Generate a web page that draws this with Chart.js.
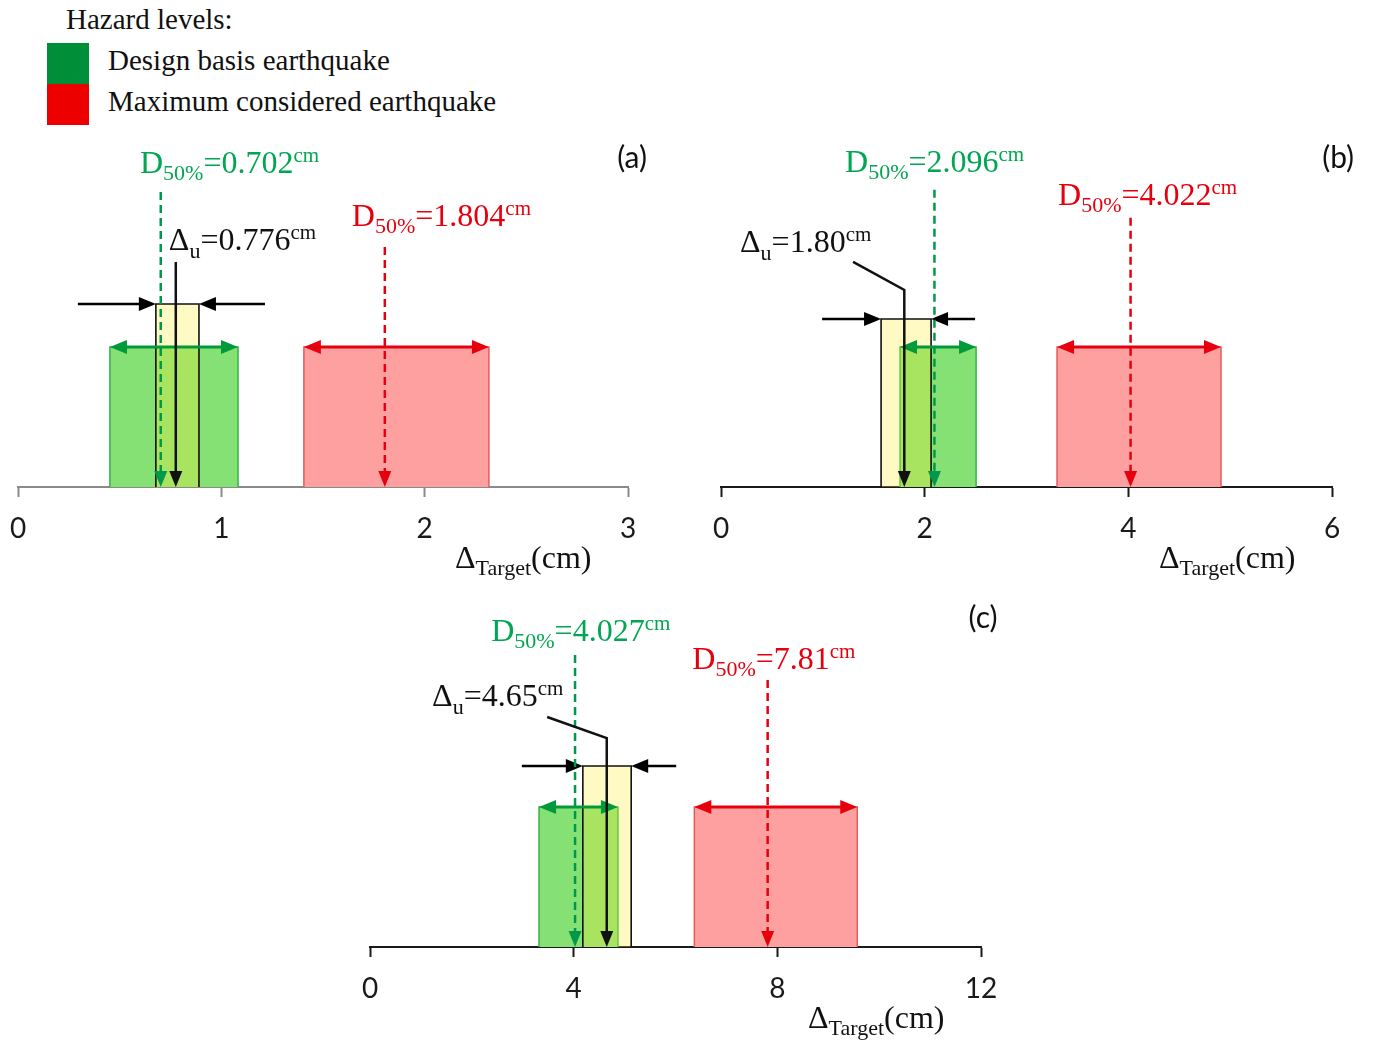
<!DOCTYPE html>
<html>
<head>
<meta charset="utf-8">
<script src="https://cdn.jsdelivr.net/npm/chart.js@4/dist/chart.umd.min.js"></script>
<style>
  body { margin: 0; background: #fff; }
  #page { position: relative; width: 1373px; height: 1042px; overflow: hidden; }
  canvas { position: absolute; }
  .lg { position: absolute; font-family: "Liberation Serif", serif; font-size: 29px; line-height: 29px; color: #111; white-space: nowrap; }
  .sw { position: absolute; left: 47px; width: 42px; height: 41px; }
</style>
</head>
<body>
<div id="page">
  <div class="lg" style="left:66px;top:5px">Hazard levels:</div>
  <div class="sw" style="top:43px;background:#008f39"></div>
  <div class="sw" style="top:84px;background:#ec0000"></div>
  <div class="lg" style="left:108px;top:46px">Design basis earthquake</div>
  <div class="lg" style="left:108px;top:87px">Maximum considered earthquake</div>

  <canvas id="panelA" width="690" height="460" style="left:0;top:130px"></canvas>
  <canvas id="panelB" width="683" height="460" style="left:690px;top:130px"></canvas>
  <canvas id="panelC" width="700" height="452" style="left:340px;top:590px"></canvas>
</div>
<script>
// target displacement ranges (cm) for each panel
const panelNames = ['(a)', '(b)', '(c)'];
const axisMax = [3, 6, 12];
const tickStep = [1, 2, 4];
const dbeBand = [[0.452, 1.082], [1.758, 2.505], [3.32, 4.87]];
const mceBand = [[1.406, 2.316], [3.30, 4.91], [6.37, 9.57]];
const capBand = [[0.678, 0.890], [1.572, 2.063], [4.18, 5.13]];
const dbeMedian = [0.702, 2.096, 4.027];
const mceMedian = [1.804, 4.022, 7.81];
const deltaU = [0.776, 1.80, 4.65];
const deltaUDigits = [3, 2, 2];
const mceDigits = [3, 3, 2];
const bandHeight = [4, 4, 4];
const capHeight = [5.23, 4.8, 5.17];

// where the arrows start and the labels sit (x in cm, y in chart units)
const panelLayout = [
  { canvas: 'panelA', pad: { left: 18, right: 62, top: 7, bottom: 29.4 }, axisColor: '#8a8a8a',
    capArrows: [78, 66], dbeTop: 8.43, mceTop: 6.86, uStart: [0.776, 6.43], uKnee: null,
    dbeLabel: [0.60, 8.97], mceLabel: [1.642, 7.46], uLabel: [0.742, 6.77], tag: [3.02, 9.4] },
  { canvas: 'panelB', pad: { left: 31, right: 41, top: 7, bottom: 29.4 }, axisColor: '#1a1a1a',
    capArrows: [59, 44], dbeTop: 8.49, mceTop: 7.69, uStart: [1.297, 6.43], uKnee: 5.63,
    dbeLabel: [1.218, 9.0], mceLabel: [3.31, 8.06], uLabel: [0.187, 6.71], tag: [6.06, 9.4] },
  { canvas: 'panelC', pad: { left: 30, right: 59, top: 7, bottom: 21.4 }, axisColor: '#1a1a1a',
    capArrows: [61, 45], dbeTop: 8.34, mceTop: 7.63, uStart: [3.48, 6.57], uKnee: 5.97,
    dbeLabel: [2.38, 8.74], mceLabel: [6.33, 7.94], uLabel: [1.22, 6.89], tag: [12.04, 9.4] }
];

const GREEN_TEXT = '#00a651';
const GREEN_LINE = '#00984a';
const GREEN_ARROW = '#009a3a';
const RED = '#e6000e';
const SERIF = '"Liberation Serif", serif';

function rect(range, h) {
  return [{ x: range[0], y: 0 }, { x: range[0], y: h }, { x: range[1], y: h }, { x: range[1], y: 0 }];
}

function head(ctx, tx, ty, dx, dy, len, half, color) {
  const bx = tx - dx * len, by = ty - dy * len;
  ctx.beginPath();
  ctx.moveTo(tx, ty);
  ctx.lineTo(bx - dy * half, by + dx * half);
  ctx.lineTo(bx + dy * half, by - dx * half);
  ctx.closePath();
  ctx.fillStyle = color;
  ctx.fill();
}

// polyline with an arrow head at the last point (and optionally the first)
function arrow(ctx, pts, color, width, dash, both, len, half) {
  const n = pts.length;
  const dir = (a, b) => { const l = Math.hypot(b[0] - a[0], b[1] - a[1]); return [(b[0] - a[0]) / l, (b[1] - a[1]) / l]; };
  const de = dir(pts[n - 2], pts[n - 1]);
  const ds = dir(pts[1], pts[0]);
  ctx.save();
  ctx.strokeStyle = color;
  ctx.lineWidth = width;
  ctx.setLineDash(dash || []);
  ctx.beginPath();
  ctx.moveTo(pts[0][0] - (both ? ds[0] * len * 0.8 : 0), pts[0][1] - (both ? ds[1] * len * 0.8 : 0));
  for (let k = 1; k < n - 1; k++) ctx.lineTo(pts[k][0], pts[k][1]);
  ctx.lineTo(pts[n - 1][0] - de[0] * len * 0.8, pts[n - 1][1] - de[1] * len * 0.8);
  ctx.stroke();
  ctx.setLineDash([]);
  head(ctx, pts[n - 1][0], pts[n - 1][1], de[0], de[1], len, half, color);
  if (both) head(ctx, pts[0][0], pts[0][1], ds[0], ds[1], len, half, color);
  ctx.restore();
}

function richText(ctx, x, y, parts, color) {
  ctx.save();
  ctx.fillStyle = color;
  ctx.textAlign = 'left';
  ctx.textBaseline = 'alphabetic';
  for (const [t, size, dy] of parts) {
    ctx.font = size + 'px ' + SERIF;
    ctx.fillText(t, x, y + dy);
    x += ctx.measureText(t).width;
  }
  ctx.restore();
}

const medianLabel = v => [['D', 32, 0], ['50%', 22, 7], ['=' + v, 32, 0], ['cm', 21, -11]];

const marks = {
  id: 'marks',
  afterDraw(chart) {
    const i = chart.options.plugins.marks.panel;
    const L = panelLayout[i];
    const { ctx, scales: { x, y } } = chart;
    const px = v => x.getPixelForValue(v);
    const py = v => y.getPixelForValue(v);
    const base = py(0);

    // hazard ranges
    arrow(ctx, [[px(dbeBand[i][0]), py(bandHeight[i])], [px(dbeBand[i][1]), py(bandHeight[i])]], GREEN_ARROW, 3, null, true, 17, 7);
    arrow(ctx, [[px(mceBand[i][0]), py(bandHeight[i])], [px(mceBand[i][1]), py(bandHeight[i])]], RED, 3, null, true, 17, 7);

    // capacity band pointers
    const cy = py(capHeight[i]);
    arrow(ctx, [[px(capBand[i][0]) - L.capArrows[0], cy], [px(capBand[i][0]), cy]], '#000', 2.5, null, false, 17, 7);
    arrow(ctx, [[px(capBand[i][1]) + L.capArrows[1], cy], [px(capBand[i][1]), cy]], '#000', 2.5, null, false, 17, 7);

    // medians
    arrow(ctx, [[px(dbeMedian[i]), py(L.dbeTop)], [px(dbeMedian[i]), base]], GREEN_LINE, 2.5, [8, 5], false, 16, 6.5);
    arrow(ctx, [[px(mceMedian[i]), py(L.mceTop)], [px(mceMedian[i]), base]], RED, 2.5, [8, 5], false, 16, 6.5);

    // ultimate displacement
    const up = [[px(L.uStart[0]), py(L.uStart[1])]];
    if (L.uKnee !== null) up.push([px(deltaU[i]), py(L.uKnee)]);
    up.push([px(deltaU[i]), base]);
    arrow(ctx, up, '#111', 2.5, null, false, 16, 6.5);

    // labels
    richText(ctx, px(L.dbeLabel[0]), py(L.dbeLabel[1]), medianLabel(dbeMedian[i].toFixed(3)), GREEN_TEXT);
    richText(ctx, px(L.mceLabel[0]), py(L.mceLabel[1]), medianLabel(mceMedian[i].toFixed(mceDigits[i])), RED);
    richText(ctx, px(L.uLabel[0]), py(L.uLabel[1]),
      [['Δ', 32, 0], ['u', 22, 8], ['=' + deltaU[i].toFixed(deltaUDigits[i]), 32, 0], ['cm', 21, -11]], '#111');

    // axis title
    richText(ctx, x.right - 173, base + 81, [['Δ', 32, 0], ['Target', 22, 7], ['(cm)', 32, 0]], '#111');

    // panel tag
    ctx.save();
    ctx.font = '30px Lato';
    ctx.fillStyle = '#111';
    ctx.textAlign = 'center';
    ctx.textBaseline = 'middle';
    ctx.fillText(panelNames[i], px(L.tag[0]), py(L.tag[1]));
    ctx.restore();
  }
};

function makePanel(i) {
  const L = panelLayout[i];
  const line = (data, fillColor, edge, width) => ({
    data: data, showLine: true, fill: 'origin', backgroundColor: fillColor,
    borderColor: edge, borderWidth: width, pointRadius: 0, tension: 0
  });
  new Chart(document.getElementById(L.canvas), {
    type: 'line',
    data: {
      datasets: [
        Object.assign(line(rect(capBand[i], capHeight[i]), 'rgba(255,238,48,0.29)', '#111', 1.6), { label: 'Δu' }),
        Object.assign(line(rect(dbeBand[i], bandHeight[i]), 'rgb(134,225,116)', '#33b24d', 1.5), { label: 'DBE' }),
        Object.assign(line(rect(mceBand[i], bandHeight[i]), 'rgb(255,160,160)', '#e85a5a', 1.5), { label: 'MCE' })
      ]
    },
    options: {
      responsive: false,
      animation: false,
      layout: { padding: L.pad },
      plugins: { legend: { display: false }, tooltip: { enabled: false }, marks: { panel: i } },
      scales: {
        x: {
          type: 'linear', min: 0, max: axisMax[i], z: 1,
          afterFit(scale) { scale.paddingLeft = 0; scale.paddingRight = 0; },
          ticks: { stepSize: tickStep[i], padding: 15, color: '#1a1a1a', font: { family: 'Lato', size: 28 } },
          grid: { drawOnChartArea: false, drawTicks: true, tickLength: 10, tickColor: L.axisColor, tickWidth: 2, color: L.axisColor },
          border: { color: L.axisColor, width: 2 }
        },
        y: { display: false, min: 0, max: 10 }
      }
    },
    plugins: [marks]
  });
}

[0, 1, 2].forEach(makePanel);
</script>
</body>
</html>
